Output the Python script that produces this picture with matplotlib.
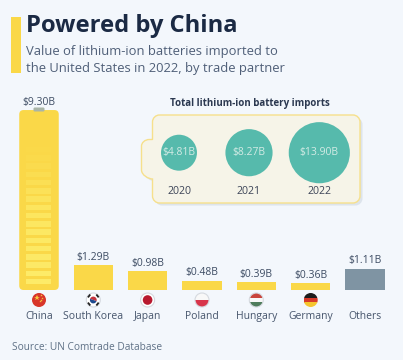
import matplotlib
matplotlib.use('Agg')
import matplotlib.pyplot as plt
from matplotlib.patches import Circle, FancyBboxPatch, PathPatch, Rectangle, Wedge
from matplotlib.path import Path
import numpy as np

plt.rcParams['font.family'] = ['Open Sans', 'DejaVu Sans']

# data
countries = ['China', 'South Korea', 'Japan', 'Poland', 'Hungary', 'Germany', 'Others']
values = [9.30, 1.29, 0.98, 0.48, 0.39, 0.36, 1.11]
years = ['2020', '2021', '2022']
totals = [4.81, 8.27, 13.90]

W, H = 403, 360
BG = '#f3f7fc'
YEL = '#fad848'
DARK = '#1b2a44'
GREY = '#4f5f78'
TEAL = '#56baac'
RING = '#d5d9df'

fig = plt.figure(figsize=(W/100, H/100), dpi=100, facecolor=BG)

# bars, baseline at y=290px, 54.33px between bars, 19.35px per billion
ax = fig.add_axes([0, 0, 1, 1])
ax.set_xlim(-39/54.33, (W-39)/54.33)
ax.set_ylim(-(H-290)/19.35, 290/19.35)
ax.axis('off')
cols = [YEL]*6 + ['#7f94a3']
x = np.arange(len(countries))
bars = ax.bar(x, values, width=39.5/54.33, color=cols, zorder=2)
bars[0].set_visible(False)
# china bar is a rounded battery
ax.add_patch(FancyBboxPatch((x[0]-39.5/54.33/2, 0), 39.5/54.33, values[0],
                            boxstyle='round,pad=0,rounding_size=0.08',
                            mutation_aspect=54.33/19.35,
                            fc=YEL, ec='none', zorder=2))
for xi, v in zip(x, values):
    ax.text(xi, v + 0.12, '$%.2fB' % v, ha='center', va='bottom', fontsize=7.5, color='#3d4c63', zorder=4,
            parse_math=False)

# everything else in pixel coords
ov = fig.add_axes([0, 0, 1, 1])
ov.set_xlim(0, W)
ov.set_ylim(H, 0)
ov.axis('off')
ov.patch.set_alpha(0)

# header
ov.add_patch(Rectangle((11, 16.5), 10, 56.5, fc=YEL, ec='none'))
ov.text(26.5, 25.5, 'Powered by China', fontsize=17.1, fontweight='bold', color=DARK, va='center')
ov.text(26, 52, 'Value of lithium-ion batteries imported to', fontsize=9.4, color=GREY, va='center')
ov.text(26, 68.5, 'the United States in 2022, by trade partner', fontsize=9.4, color=GREY, va='center')

# battery cap and cells
ov.add_patch(FancyBboxPatch((33.5, 107.5), 11, 4, boxstyle='round,pad=0,rounding_size=1.2',
                            fc='#a9b5a8', ec='none', zorder=3))
cell_y = [284.3, 276, 267.8, 259.5, 251.3, 243, 234.8, 226.5, 218.3, 210, 201.8, 193.5, 185.3, 177, 168.8, 160.5, 152.3]
cell_a = [1, 1, .95, .95, .9, .9, .85, .8, .75, .7, .6, .5, .4, .3, .2, .12, .06]


def add_cells(target):
    for cy, a in zip(cell_y, cell_a):
        target.add_patch(Rectangle((26, cy-5.5), 25.3, 5.5, fc='#fdeb68', ec='none', alpha=a, zorder=3))


add_cells(ov)

# total imports panel
ov.text(249.5, 103.5, 'Total lithium-ion battery imports', fontsize=7.05, fontweight='bold', color='#2b3850',
        ha='center', va='center')


def panel_path(dx=0, dy=0):
    l, r, t, b, tab, r0 = 152.5, 360, 115, 203, 141.5, 7
    k = 0.55*r0
    v = [(l+r0, t), (r-r0, t), (r-r0+k, t), (r, t+r0-k), (r, t+r0), (r, b-r0), (r, b-r0+k), (r-r0+k, b), (r-r0, b),
         (l+r0, b), (l+r0-k, b), (l, b-r0+k), (l, b-r0), (l, 179), (tab+r0, 179), (tab, 175), (tab, 170),
         (tab, 146), (tab, 143), (tab+3, 139.5), (l-3, 139.5), (l, 139.5), (l, 139), (l, t+r0), (l, t+r0-k),
         (l+r0-k, t), (l+r0, t)]
    c = [Path.MOVETO, Path.LINETO, Path.CURVE4, Path.CURVE4, Path.CURVE4, Path.LINETO, Path.CURVE4, Path.CURVE4,
         Path.CURVE4, Path.LINETO, Path.CURVE4, Path.CURVE4, Path.CURVE4, Path.LINETO, Path.CURVE4, Path.CURVE4,
         Path.CURVE4, Path.LINETO, Path.CURVE4, Path.CURVE4, Path.CURVE4, Path.LINETO, Path.LINETO, Path.LINETO,
         Path.CURVE4, Path.CURVE4, Path.CURVE4]
    return Path([(a+dx, b_+dy) for a, b_ in v], c)


ov.add_patch(PathPatch(panel_path(2.5, 2.5), fc='#dde4ec', ec='none', zorder=1))
ov.add_patch(PathPatch(panel_path(), fc='#f6f4e8', ec='#f6e08c', lw=1.0, zorder=2))

bub_x = [179, 249, 319.3]
ov.scatter(bub_x, [152.7]*3, s=[139.4*t for t in totals], color=TEAL, linewidths=0, zorder=3)
for bx, t, yr in zip(bub_x, totals, years):
    ov.text(bx, 152.7, '$%.2fB' % t, ha='center', va='center', fontsize=7.5, color='#d3ebe5', zorder=4,
            parse_math=False)
    ov.text(bx, 191, yr, ha='center', va='center', fontsize=7.6, color='#3d4558', zorder=4)


# flags
def flag_bands(cx, cy, cols_):
    r = 7
    clip = Circle((cx, cy), r, transform=ov.transData)
    n = len(cols_)
    for i, c in enumerate(cols_):
        p = Rectangle((cx-r, cy-r+2*r*i/n), 2*r, 2*r/n + 0.2, fc=c, ec='none', zorder=5)
        ov.add_patch(p)
        p.set_clip_path(clip)


fx = [39, 93.3, 147.6, 202, 256.3, 310.7, 365]
fy = 300
ov.add_patch(Circle((fx[0], fy), 7, fc='#d8362a', ec='none', zorder=5))
ov.plot([fx[0]-2], [fy-2], marker='*', ms=4, color='#f7c93e', mew=0, zorder=6)
for ang in [0, 40, 80, 300]:
    ov.plot([fx[0]+3*np.cos(np.radians(ang))], [fy-2+3*np.sin(np.radians(ang))], marker='*', ms=1.8,
            color='#f7c93e', mew=0, zorder=6)

ov.add_patch(Circle((fx[1], fy), 7, fc='white', ec=RING, lw=.8, zorder=5))
ov.add_patch(Wedge((fx[1], fy), 3.4, 200, 20, fc='#c4323c', ec='none', zorder=6))
ov.add_patch(Wedge((fx[1], fy), 3.4, 20, 200, fc='#1f4a8e', ec='none', zorder=6))
for sx in [-1, 1]:
    for sy in [-1, 1]:
        ov.plot([fx[1]+sx*4.8, fx[1]+sx*3.6], [fy+sy*3.3, fy+sy*4.8], color='#222222', lw=1.3, zorder=6)

ov.add_patch(Circle((fx[2], fy), 7, fc='white', ec=RING, lw=.8, zorder=5))
ov.add_patch(Circle((fx[2], fy), 4.8, fc='#b8192f', ec='none', zorder=6))

flag_bands(fx[3], fy, ['#f8f8f8', '#d8354a'])
flag_bands(fx[4], fy, ['#c9443c', '#f8f8f8', '#4f7d5c'])
flag_bands(fx[5], fy, ['#1c1c1c', '#d63a2a', '#f5c52e'])
ov.add_patch(Circle((fx[3], fy), 7, fc='none', ec=RING, lw=.8, zorder=6))
ov.add_patch(Circle((fx[4], fy), 7, fc='none', ec=RING, lw=.8, zorder=6))

for fxi, name in zip(fx, countries):
    ov.text(fxi, 316.5, name, ha='center', va='center', fontsize=7.5, color='#46556c')

ov.text(11.5, 347, 'Source: UN Comtrade Database', fontsize=7.3, color='#5f7186', va='center')

fig.savefig('out.png', dpi=100, facecolor=BG)
